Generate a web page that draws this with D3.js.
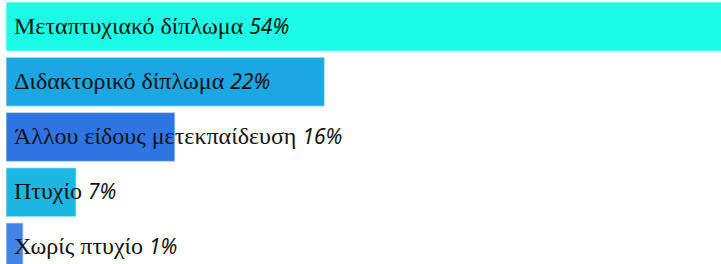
<!DOCTYPE html>
<html>
<head>
<meta charset="utf-8">
<script src="https://cdn.jsdelivr.net/npm/d3@7"></script>
<style>
  html, body { margin: 0; padding: 0; background: #fff; }
  svg { display: block; }
  .lbl { font-family: "Liberation Serif", serif; font-size: 24px; fill: #141414; }
  .pct { font-family: "Noto Sans", sans-serif; font-size: 21px; font-style: italic; }
</style>
</head>
<body>
<div id="chart"></div>
<script>
// categories, shown percentages and the drawn bar lengths (share of full width)
const categories = [
  'Μεταπτυχιακό δίπλωμα',
  'Διδακτορικό δίπλωμα',
  'Άλλου είδους μετεκπαίδευση',
  'Πτυχίο',
  'Χωρίς πτυχίο'
];
const percents = [54, 22, 16, 7, 1];
const barLengths = [100, 44.5, 23.6, 9.8, 2.4];
const colors = ['#1cfbe6', '#1ca6e2', '#2e74e2', '#1cb6e2', '#4184e6'];

const width = 721, height = 264;

const svg = d3.select('#chart').append('svg')
  .attr('width', width)
  .attr('height', height);

const x = d3.scaleLinear()
  .domain([0, 100])
  .range([6, 722]);

const y = d3.scaleBand()
  .domain(categories)
  .range([2, 272])
  .paddingInner(0.11)
  .paddingOuter(0);

const rows = categories.map((c, i) => ({ c, p: percents[i], v: barLengths[i], col: colors[i] }));

svg.selectAll('rect.bar')
  .data(rows)
  .enter().append('rect')
  .attr('class', 'bar')
  .attr('x', x(0))
  .attr('y', d => y(d.c))
  .attr('width', d => x(d.v) - x(0))
  .attr('height', y.bandwidth())
  .attr('fill', d => d.col)
  .attr('stroke', 'rgba(255,255,255,0.45)')
  .attr('stroke-width', 1.5);

const t = svg.selectAll('text.lbl')
  .data(rows)
  .enter().append('text')
  .attr('class', 'lbl')
  .attr('x', x(0) + 8)
  .attr('y', d => y(d.c) + y.bandwidth() / 2 + 7);

t.append('tspan').text(d => d.c + ' ');
t.append('tspan').attr('class', 'pct').text(d => d.p + '%');
</script>
</body>
</html>
